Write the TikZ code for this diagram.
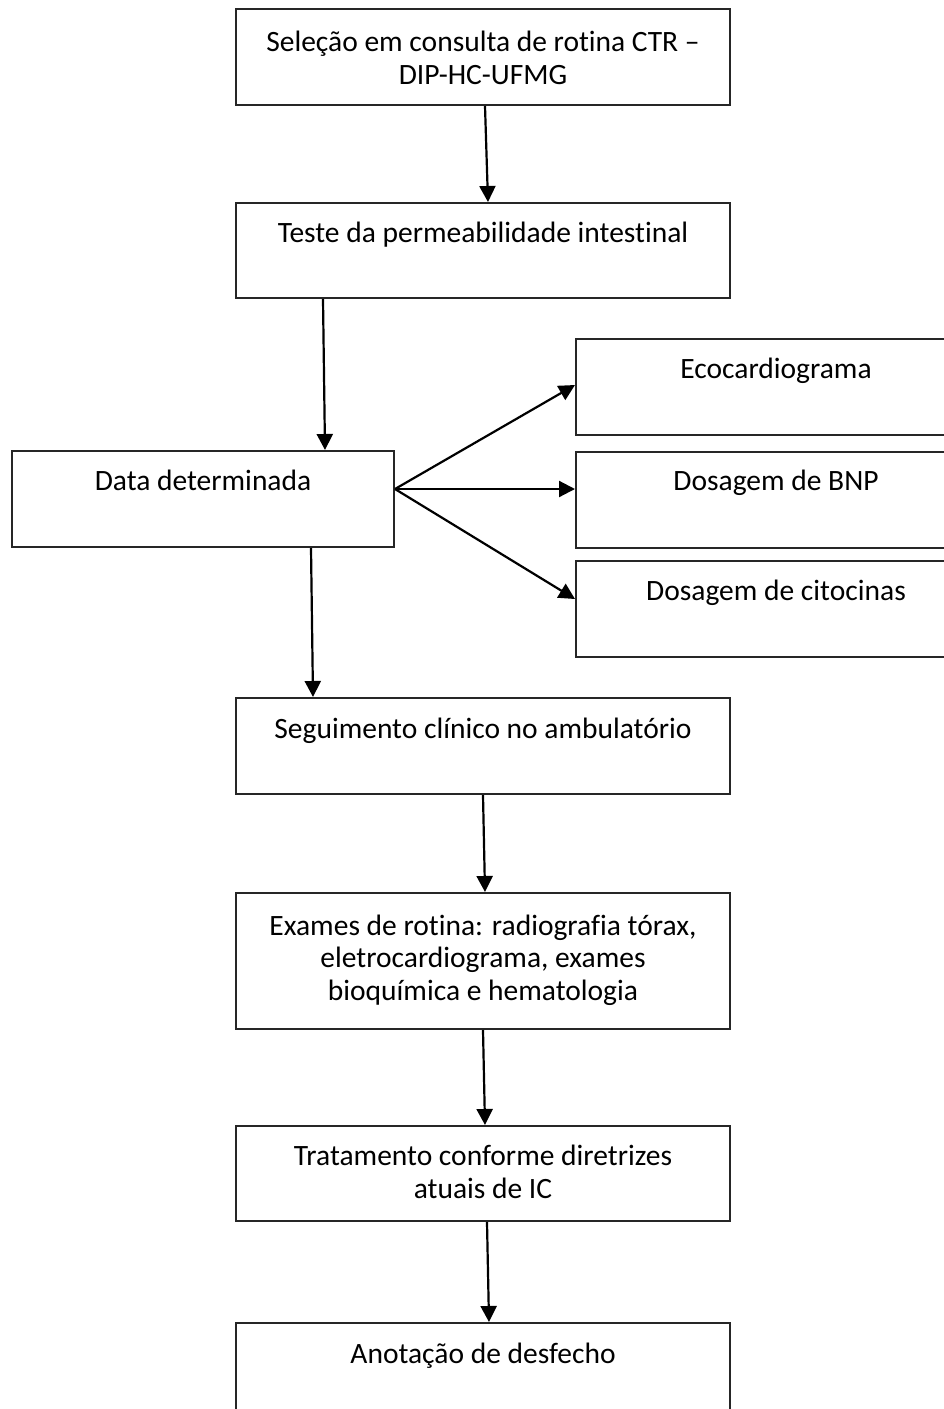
\documentclass[tikz,border=0pt]{standalone}
\usepackage{fontspec}
\setmainfont{Carlito}[Ligatures=NoCommon]
\usetikzlibrary{arrows.meta}
\begin{document}
\begin{tikzpicture}[x=1pt,y=-1pt,
  box/.style={draw=black!85, line width=2pt, anchor=north west, inner sep=0pt, rectangle},
  txt/.style={anchor=base, inner sep=0pt, align=center, font=\fontsize{29.5}{32.5}\selectfont},
  arr/.style={line width=2.2pt, -{Triangle[length=16pt,width=16pt]}}]
\useasboundingbox (0,0) rectangle (944,1409);
\clip (0,0) rectangle (944,1409);
% boxes
\node[box, minimum width=494pt, minimum height=96pt] (b1) at (235,8) {};
\node[box, minimum width=494pt, minimum height=95pt] (b2) at (235,202) {};
\node[box, minimum width=382pt, minimum height=96pt] (b3) at (11,450) {};
\node[box, minimum width=400pt, minimum height=96pt] (e1) at (575,338) {};
\node[box, minimum width=400pt, minimum height=96pt] (e2) at (575,451) {};
\node[box, minimum width=400pt, minimum height=96pt] (e3) at (575,560) {};
\node[box, minimum width=494pt, minimum height=96pt] (b4) at (235,697) {};
\node[box, minimum width=494pt, minimum height=136pt] (b5) at (235,892) {};
\node[box, minimum width=494pt, minimum height=95pt] (b6) at (235,1125) {};
\node[box, minimum width=494pt, minimum height=120pt] (b7) at (235,1322) {};
% texts (anchor base = last line)
\node[txt] (t1) at ([yshift=-76pt]b1.north) {Seleção em consulta de rotina CTR –\\DIP-HC-UFMG};
\node[txt] (t2) at ([yshift=-40pt]b2.north) {Teste da permeabilidade intestinal};
\node[txt] (t3) at ([yshift=-40pt]b3.north) {Data determinada};
\node[txt] (te1) at ([yshift=-40pt]e1.north) {Ecocardiograma};
\node[txt] (te2) at ([yshift=-39pt]e2.north) {Dosagem de BNP};
\node[txt] (te3) at ([yshift=-40pt]e3.north) {Dosagem de citocinas};
\node[txt] (t4) at ([yshift=-41pt]b4.north) {Seguimento clínico no ambulatório};
\node[txt] (t5) at ([yshift=-108pt]b5.north) {Exames de rotina: radiografia tórax,\\eletrocardiograma, exames\\bioquímica e hematologia};
\node[txt] (t6) at ([yshift=-73pt]b6.north) {Tratamento conforme diretrizes\\atuais de IC};
\node[txt] (t7) at ([yshift=-41pt]b7.north) {Anotação de desfecho};
% connectors
\draw[arr] ([xshift=250pt]b1.south west) -- ([xshift=253pt]b2.north west);
\draw[arr] ([xshift=88pt]b2.south west) -- ([xshift=314pt]b3.north west);
\draw[arr] ([xshift=300pt]b3.south west) -- ([xshift=78pt]b4.north west);
\draw[arr] ([xshift=248pt]b4.south west) -- ([xshift=250pt]b5.north west);
\draw[arr] ([xshift=248pt]b5.south west) -- ([xshift=250pt]b6.north west);
\draw[arr] ([xshift=252pt]b6.south west) -- ([xshift=254pt]b7.north west);
\coordinate (fork) at ([yshift=-39pt]b3.north east);
\draw[arr] (fork) -- ([yshift=-47pt]e1.north west);
\draw[arr] (fork) -- ([yshift=-38pt]e2.north west);
\draw[arr] (fork) -- ([yshift=-39pt]e3.north west);
\end{tikzpicture}
\end{document}
